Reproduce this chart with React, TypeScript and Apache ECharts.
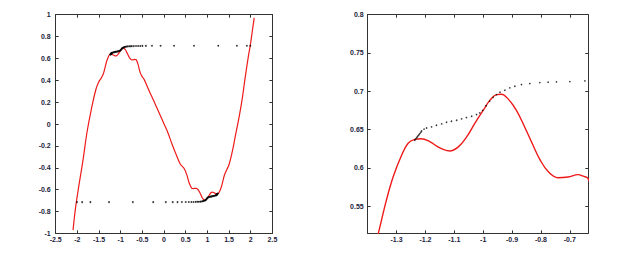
import React, { useEffect, useRef } from "react";
import * as echarts from "echarts";

// Red curve (x, y)
const redCurve: [number, number][] = [
  [-2.1, -0.97], [-2.04, -0.76], [-1.97, -0.575], [-1.87, -0.33], [-1.78, -0.08],
  [-1.68, 0.13], [-1.57, 0.32], [-1.5, 0.39], [-1.45, 0.42], [-1.4, 0.46],
  [-1.3634, 0.514], [-1.335, 0.558], [-1.312, 0.588], [-1.283, 0.616], [-1.26, 0.632],
  [-1.237, 0.637], [-1.214, 0.638], [-1.185, 0.634], [-1.15, 0.626], [-1.116, 0.622],
  [-1.087, 0.627], [-1.058, 0.64], [-1.029, 0.658], [-1.0, 0.675], [-0.977, 0.688],
  [-0.954, 0.6956], [-0.937, 0.6961], [-0.914, 0.69], [-0.885, 0.675], [-0.856, 0.653],
  [-0.827, 0.629], [-0.804, 0.611], [-0.775, 0.595], [-0.741, 0.587], [-0.706, 0.588],
  [-0.671, 0.591], [-0.654, 0.589], [-0.637, 0.586], [-0.6, 0.545], [-0.55, 0.47],
  [-0.5, 0.43], [-0.46, 0.408], [-0.4, 0.355], [-0.34, 0.3], [-0.27, 0.24],
  [-0.19, 0.17], [-0.1, 0.09], [0, 0], [0.08, -0.07], [0.19, -0.19],
  [0.3, -0.3], [0.38, -0.37], [0.46, -0.405], [0.53, -0.47], [0.58, -0.54],
  [0.637, -0.586], [0.67, -0.591], [0.706, -0.588], [0.741, -0.588], [0.775, -0.596],
  [0.804, -0.612], [0.83, -0.63], [0.856, -0.653], [0.885, -0.676], [0.914, -0.691],
  [0.937, -0.697], [0.954, -0.696], [0.977, -0.688], [1.0, -0.676], [1.029, -0.659],
  [1.058, -0.641], [1.087, -0.627], [1.116, -0.623], [1.15, -0.627], [1.185, -0.635],
  [1.214, -0.639], [1.237, -0.637], [1.26, -0.631], [1.283, -0.615], [1.312, -0.587],
  [1.335, -0.557], [1.363, -0.513], [1.4, -0.46], [1.45, -0.415], [1.5, -0.37],
  [1.57, -0.26], [1.64, -0.12], [1.72, 0.04], [1.8, 0.22], [1.87, 0.42],
  [1.95, 0.63], [1.99, 0.72], [2.04, 0.86], [2.08, 0.97],
];

// Black dots, upper branch
const upperDots: [number, number][] = [
  [-1.237, 0.636], [-1.234, 0.6375], [-1.231, 0.639], [-1.228, 0.6405], [-1.225, 0.642],
  [-1.222, 0.6435], [-1.219, 0.645], [-1.216, 0.6465], [-1.2135, 0.648], [-1.205, 0.6505],
  [-1.196, 0.652], [-1.179, 0.6534], [-1.162, 0.6556], [-1.144, 0.6573], [-1.127, 0.6595],
  [-1.11, 0.6608], [-1.092, 0.6621], [-1.075, 0.6638], [-1.058, 0.6656], [-1.04, 0.6673],
  [-1.023, 0.6695], [-1.012, 0.6717], [-1.002, 0.675], [-0.99, 0.681], [-0.978, 0.687],
  [-0.966, 0.692], [-0.954, 0.6955], [-0.942, 0.6987], [-0.925, 0.7013], [-0.908, 0.7044],
  [-0.8905, 0.7065], [-0.8675, 0.7087], [-0.8386, 0.71], [-0.804, 0.7113], [-0.7752, 0.7118],
  [-0.7464, 0.7122], [-0.7, 0.7126], [-0.648, 0.7135], [-0.6, 0.714], [-0.55, 0.714],
  [-0.5, 0.7145], [-0.42, 0.7145], [-0.28, 0.715], [-0.08, 0.715], [0.23, 0.715],
  [0.69, 0.715], [1.25, 0.715], [1.68, 0.715], [1.91, 0.715], [1.99, 0.715],
];

// Black dots, lower branch
const lowerDots: [number, number][] = [
  [-2.01, -0.714], [-1.89, -0.714], [-1.7, -0.714], [-1.27, -0.714], [-0.72, -0.714],
  [-0.25, -0.714], [0.04, -0.714], [0.2, -0.714], [0.31, -0.714], [0.41, -0.7135],
  [0.5, -0.7135], [0.57, -0.713], [0.63, -0.713], [0.68, -0.7125], [0.73, -0.712],
  [0.77, -0.7115], [0.8, -0.711], [0.835, -0.71], [0.865, -0.7085], [0.89, -0.7065],
  [0.905, -0.7045], [0.922, -0.7015], [0.94, -0.699], [0.952, -0.696], [0.965, -0.692],
  [0.978, -0.687], [0.99, -0.681], [1.0, -0.675], [1.012, -0.672], [1.022, -0.67],
  [1.04, -0.667], [1.058, -0.6655], [1.075, -0.664], [1.092, -0.662], [1.11, -0.661],
  [1.127, -0.6595], [1.145, -0.6575], [1.162, -0.6555], [1.18, -0.6535], [1.196, -0.652],
  [1.205, -0.6505], [1.213, -0.648], [1.218, -0.6455], [1.222, -0.643], [1.228, -0.6405],
  [1.232, -0.6385], [1.236, -0.6365],
];

// Tick values for the zoomed (right) panel
const rightXTicks = [-1.3, -1.2, -1.1, -1, -0.9, -0.8, -0.7];
const rightYTicks = [0.55, 0.6, 0.65, 0.7, 0.75, 0.8];

const AXIS_COLOR = "#333333";
const LABEL_COLOR = "#1c1c3c";
const RED = "#ee1a1a";

const labelStyle = {
  fontSize: 7,
  fontWeight: "bold" as const,
  fontFamily: "Liberation Sans, Arial, sans-serif",
  color: LABEL_COLOR,
};

function axisBase(extra: any) {
  return {
    type: "value",
    axisLine: { show: true, onZero: false, lineStyle: { color: AXIS_COLOR, width: 1 } },
    axisTick: { show: true, inside: true, length: 3, lineStyle: { color: AXIS_COLOR } },
    splitLine: { show: false },
    ...extra,
  };
}

export default function App() {
  const ref = useRef<HTMLDivElement>(null);
  useEffect(() => {
    if (!ref.current) return;
    const chart = echarts.init(ref.current, undefined, { renderer: "svg" });
    const leftGrid = { left: 55.7, top: 14.67, width: 216.7, height: 218.7 };
    const rightGrid = { left: 367.7, top: 14.67, width: 220.6, height: 218.7 };
    chart.setOption({
      animation: false,
      backgroundColor: "#ffffff",
      grid: [
        { ...leftGrid, containLabel: false },
        { ...rightGrid, containLabel: false },
      ],
      xAxis: [
        axisBase({
          gridIndex: 0, position: "bottom", min: -2.5, max: 2.5, interval: 0.5,
          axisLabel: { ...labelStyle, margin: 3 },
        }),
        axisBase({
          gridIndex: 0, position: "top", min: -2.5, max: 2.5, interval: 0.5,
          axisLabel: { show: false },
        }),
        axisBase({
          gridIndex: 1, position: "bottom", min: -1.4, max: -0.636,
          axisLabel: { ...labelStyle, margin: 3, customValues: rightXTicks },
          axisTick: { show: true, inside: true, length: 3, lineStyle: { color: AXIS_COLOR }, customValues: rightXTicks },
        }),
        axisBase({
          gridIndex: 1, position: "top", min: -1.4, max: -0.636,
          axisLabel: { show: false, customValues: rightXTicks },
          axisTick: { show: true, inside: true, length: 3, lineStyle: { color: AXIS_COLOR }, customValues: rightXTicks },
        }),
      ],
      yAxis: [
        axisBase({
          gridIndex: 0, position: "left", min: -1, max: 1, interval: 0.2,
          axisLabel: { ...labelStyle, margin: 5 },
        }),
        axisBase({
          gridIndex: 0, position: "right", min: -1, max: 1, interval: 0.2,
          axisLabel: { show: false },
        }),
        axisBase({
          gridIndex: 1, position: "left", min: 0.5143, max: 0.8,
          axisLabel: { ...labelStyle, margin: 4, customValues: rightYTicks },
          axisTick: { show: true, inside: true, length: 3, lineStyle: { color: AXIS_COLOR }, customValues: rightYTicks },
        }),
        axisBase({
          gridIndex: 1, position: "right", min: 0.5143, max: 0.8,
          axisLabel: { show: false, customValues: rightYTicks },
          axisTick: { show: true, inside: true, length: 3, lineStyle: { color: AXIS_COLOR }, customValues: rightYTicks },
        }),
      ],
      series: [
        {
          type: "line", xAxisIndex: 0, yAxisIndex: 0, data: redCurve, smooth: 0.4,
          showSymbol: false, lineStyle: { color: RED, width: 1.2 }, clip: true, z: 2,
        },
        {
          type: "scatter", xAxisIndex: 0, yAxisIndex: 0, data: upperDots, symbolSize: 1.8,
          itemStyle: { color: "#000" }, z: 3,
        },
        {
          type: "scatter", xAxisIndex: 0, yAxisIndex: 0, data: lowerDots, symbolSize: 1.8,
          itemStyle: { color: "#000" }, z: 3,
        },
        {
          type: "line", xAxisIndex: 2, yAxisIndex: 2, data: redCurve, smooth: 0.4,
          showSymbol: false, lineStyle: { color: RED, width: 1.4 }, clip: true, z: 2,
        },
        {
          type: "scatter", xAxisIndex: 2, yAxisIndex: 2, data: upperDots, symbolSize: 1.6,
          itemStyle: { color: "#000" }, clip: true, z: 3,
        },
      ],
    });
    return () => chart.dispose();
  }, []);
  return (
    <div
      ref={ref}
      style={{ position: "fixed", left: 0, top: 0, width: 627, height: 255, background: "#fff" }}
    />
  );
}
